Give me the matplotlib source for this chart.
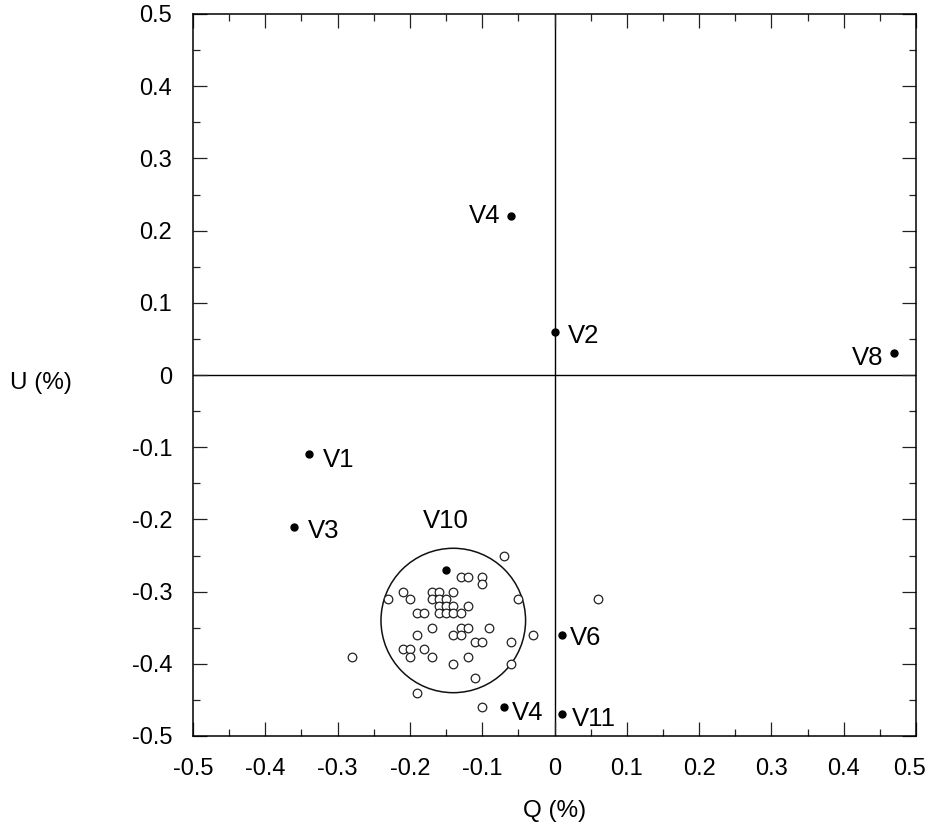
import numpy as np
import matplotlib
matplotlib.use("Agg")
import matplotlib.pyplot as plt
import matplotlib.transforms as mtransforms
from matplotlib.patches import Circle
from matplotlib.ticker import MultipleLocator

plt.rcParams["font.family"] = ["Liberation Sans", "DejaVu Sans"]

# labelled (filled) points
names = ["V4", "V2", "V8", "V1", "V3", "V10", "V4", "V6", "V11"]
q_named = [-0.06, 0.0, 0.47, -0.34, -0.36, -0.15, -0.07, 0.01, 0.01]
u_named = [0.22, 0.06, 0.03, -0.11, -0.21, -0.27, -0.46, -0.36, -0.47]

# unlabelled (open) points
q_open = [-0.07, -0.13, -0.12, -0.10, -0.10, -0.21, -0.20, -0.23, -0.17, -0.16,
          -0.14, -0.17, -0.16, -0.15, -0.05, -0.16, -0.15, -0.14, -0.12, -0.19,
          -0.18, -0.16, -0.15, -0.14, -0.13, -0.17, -0.13, -0.12, -0.09, -0.19,
          -0.14, -0.13, -0.03, -0.11, -0.10, -0.06, -0.21, -0.20, -0.18, -0.20,
          -0.17, -0.12, -0.28, -0.14, -0.06, -0.11, -0.19, -0.10, 0.06]
u_open = [-0.25, -0.28, -0.28, -0.28, -0.29, -0.30, -0.31, -0.31, -0.30, -0.30,
          -0.30, -0.31, -0.31, -0.31, -0.31, -0.32, -0.32, -0.32, -0.32, -0.33,
          -0.33, -0.33, -0.33, -0.33, -0.33, -0.35, -0.35, -0.35, -0.35, -0.36,
          -0.36, -0.36, -0.36, -0.37, -0.37, -0.37, -0.38, -0.38, -0.38, -0.39,
          -0.39, -0.39, -0.39, -0.40, -0.40, -0.42, -0.44, -0.46, -0.31]

tick_vals = [-0.5, -0.4, -0.3, -0.2, -0.1, 0.0, 0.1, 0.2, 0.3, 0.4, 0.5]
tick_text = ["-0.5", "-0.4", "-0.3", "-0.2", "-0.1", "0", "0.1", "0.2", "0.3", "0.4", "0.5"]

# group circle around V10
ring_center = (-0.14, -0.34)
ring_radius = 0.10

# label offsets in points (dx, dy) and alignment
offsets = [(-8, 0, "right"), (10, -3, "left"), (-8, -3, "right"), (10, -4, "left"),
           (10, -3, "left"), (0, 35, "center"), (6, -4, "left"), (6, -2, "left"),
           (7, -3, "left")]

fig = plt.figure(figsize=(9.31, 8.25), dpi=100)
ax = fig.add_axes([193 / 931, 1 - 736 / 825, 723 / 931, 722 / 825])

ax.axhline(0, color="black", lw=1.0, zorder=1)
ax.axvline(0, color="black", lw=1.0, zorder=1)

ax.add_patch(Circle(ring_center, ring_radius, fill=False, ec="#111111", lw=1.1, zorder=2))

ax.plot(q_open, u_open, "o", ms=6.2, mfc="white", mec="#222222", mew=0.9, zorder=3)
ax.plot(q_named, u_named, "o", ms=5, color="black", zorder=4)

for name, q, u, (dx, dy, ha) in zip(names, q_named, u_named, offsets):
    ax.annotate(name, (q, u), xytext=(dx, dy), textcoords="offset points",
                ha=ha, va="center", fontsize=18.5, zorder=5)

ax.set_xlim(-0.5, 0.5)
ax.set_ylim(-0.5, 0.5)
ax.set_xticks(tick_vals)
ax.set_xticklabels(tick_text)
ax.set_yticks(tick_vals)
ax.set_yticklabels(tick_text)
ax.xaxis.set_minor_locator(MultipleLocator(0.05))
ax.yaxis.set_minor_locator(MultipleLocator(0.05))

ax.tick_params(which="both", direction="in", top=True, right=True, width=0.9, color="#222222")
ax.tick_params(which="major", length=10, labelsize=17)
ax.tick_params(axis="x", which="major", pad=16)
ax.tick_params(axis="y", which="major", pad=15)
ax.tick_params(which="minor", length=5)
for sp in ax.spines.values():
    sp.set_linewidth(1.1)

# keep the last x label inside the canvas
last = ax.get_xticklabels()[-1]
last.set_transform(last.get_transform() + mtransforms.ScaledTranslation(-5 / 72, 0, fig.dpi_scale_trans))

ax.set_xlabel("Q (%)", fontsize=17.5, labelpad=14)
fig.text(10 / 931, 1 - 383 / 825, "U (%)", fontsize=17.5, ha="left", va="center")

fig.savefig("out.png", dpi=100)
